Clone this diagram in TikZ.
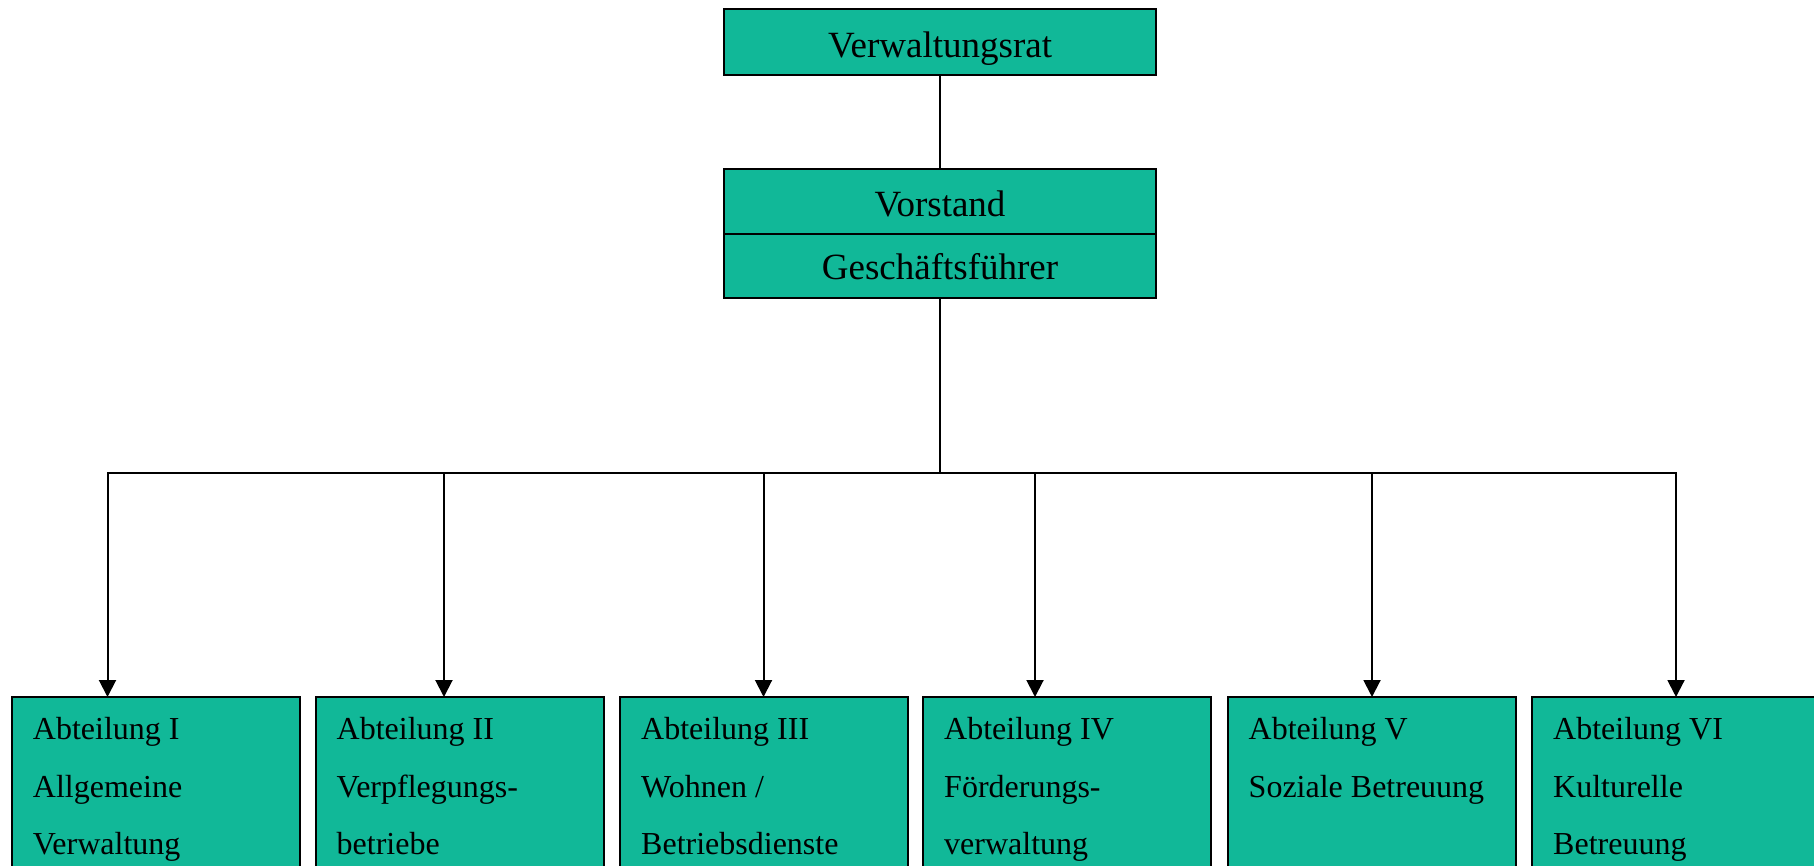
\documentclass[tikz,border=0pt]{standalone}
\usepackage{fontspec}
\setmainfont{Liberation Serif}
\usetikzlibrary{arrows.meta}
\definecolor{boxteal}{RGB}{17,184,152}
\begin{document}
\begin{tikzpicture}[x=1pt,y=-1pt,
  box/.style={draw=black, fill=boxteal, line width=2pt, inner sep=0pt, outer sep=0pt, rectangle},
  toptext/.style={font=\fontsize{37}{44}\selectfont, anchor=base, inner sep=0pt},
  subtext/.style={font=\fontsize{32}{38}\selectfont, anchor=base west, inner sep=0pt},
  conn/.style={line width=2pt},
  arr/.style={conn, -{Triangle[width=17pt,length=17pt]}}]
\clip (0,0) rectangle (1814,866);
\fill[white] (0,0) rectangle (1814,866);
% top boxes
\node[box, minimum width=432pt, minimum height=66pt] (vr) at (940,42) {};
\node[box, minimum width=432pt, minimum height=65pt] (vs) at (940,201.5) {};
\node[box, minimum width=432pt, minimum height=64pt] (gf) at (940,266) {};
\node[toptext] (tvr) at (940,57.5) {Verwaltungsrat};
\node[toptext] (tvs) at (940,216.5) {Vorstand};
\node[toptext] (tgf) at (940,279.5) {Geschäftsführer};
% bottom boxes
\node[box, minimum width=288pt, minimum height=203pt] (b1) at (155.6,798.5) {};
\node[box, minimum width=288pt, minimum height=203pt] (b2) at (459.8,798.5) {};
\node[box, minimum width=288pt, minimum height=203pt] (b3) at (764,798.5) {};
\node[box, minimum width=288pt, minimum height=203pt] (b4) at (1067,798.5) {};
\node[box, minimum width=288pt, minimum height=203pt] (b5) at (1371.5,798.5) {};
\node[box, minimum width=288pt, minimum height=203pt] (b6) at (1676,798.5) {};
% connectors
\draw[conn] (vr.south) -- (vs.north);
\coordinate (hub) at (940,473);
\coordinate (h1) at (107.5,473);
\coordinate (h2) at (444,473);
\coordinate (h3) at (763.5,473);
\coordinate (h4) at (1035,473);
\coordinate (h5) at (1372,473);
\coordinate (h6) at (1676,473);
\draw[conn] (gf.south) -- (hub);
\draw[conn, line cap=rect] (h1) -- (h6);
\draw[arr] (h1) -- (h1 |- b1.north);
\draw[arr] (h2) -- (h2 |- b2.north);
\draw[arr] (h3) -- (h3 |- b3.north);
\draw[arr] (h4) -- (h4 |- b4.north);
\draw[arr] (h5) -- (h5 |- b5.north);
\draw[arr] (h6) -- (h6 |- b6.north);
% bottom texts
\node[subtext] (a1) at (32.7,739.5) {Abteilung I};
\node[subtext] (a2) at (32.7,797) {Allgemeine};
\node[subtext] (a3) at (32.7,854.5) {Verwaltung};
\node[subtext] (c1) at (336.5,739.5) {Abteilung II};
\node[subtext] (c2) at (336.5,797) {Verpflegungs-};
\node[subtext] (c3) at (336.5,854.5) {betriebe};
\node[subtext] (d1) at (641,739.5) {Abteilung III};
\node[subtext] (d2) at (641,797) {Wohnen /};
\node[subtext] (d3) at (641,854.5) {Betriebsdienste};
\node[subtext] (e1) at (944,739.5) {Abteilung IV};
\node[subtext] (e2) at (944,797) {Förderungs-};
\node[subtext] (e3) at (944,854.5) {verwaltung};
\node[subtext] (f1) at (1248.5,739.5) {Abteilung V};
\node[subtext] (f2) at (1248.5,797) {Soziale Betreuung};
\node[subtext] (g1) at (1553,739.5) {Abteilung VI};
\node[subtext] (g2) at (1553,797) {Kulturelle};
\node[subtext] (g3) at (1553,854.5) {Betreuung};
\end{tikzpicture}
\end{document}
